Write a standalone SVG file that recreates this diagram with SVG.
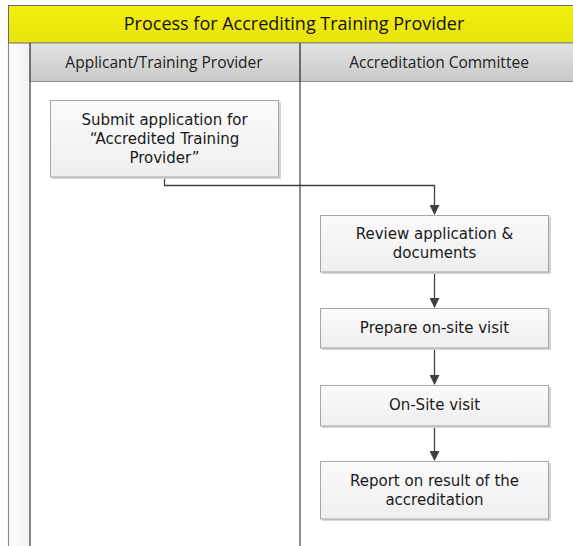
<svg xmlns="http://www.w3.org/2000/svg" width="573" height="546" viewBox="0 0 573 546">
  <defs>
    <linearGradient id="hdrGrad" x1="0" y1="0" x2="0" y2="1">
      <stop offset="0" stop-color="#e2e2e2"/>
      <stop offset="1" stop-color="#c9c9c9"/>
    </linearGradient>
    <linearGradient id="titleGrad" x1="0" y1="0" x2="0" y2="1">
      <stop offset="0" stop-color="#f2ee0e"/>
      <stop offset="1" stop-color="#e8e40c"/>
    </linearGradient>
    <linearGradient id="stripGrad" x1="0" y1="0" x2="1" y2="0">
      <stop offset="0" stop-color="#ffffff"/>
      <stop offset="1" stop-color="#f0f0f0"/>
    </linearGradient>
    <linearGradient id="boxGrad" x1="0" y1="0" x2="0" y2="1">
      <stop offset="0" stop-color="#fbfbfb"/>
      <stop offset="1" stop-color="#eeeeee"/>
    </linearGradient>
    <marker id="arrow" markerWidth="10" markerHeight="10" refX="9" refY="5" orient="auto" markerUnits="userSpaceOnUse">
      <path d="M0,0 L10,5 L0,10 Z" fill="#404040"/>
    </marker>
    <style>
      .box { fill: url(#boxGrad); stroke: #a6a6a6; stroke-width: 1; }
      .shadow { fill: #d6d6d6; }
      .label { font-family: "DejaVu Sans", Verdana, sans-serif; font-size: 15px; fill: #1a1a1a; text-anchor: middle; }
      .hdr { font-family: "Open Sans", "Liberation Sans", sans-serif; font-size: 15.5px; fill: #222; text-anchor: middle; }
      .conn { fill: none; stroke: #404040; stroke-width: 1.3; marker-end: url(#arrow); }
    </style>
  </defs>

  <rect width="573" height="546" fill="#ffffff"/>

  <!-- pool frame -->
  <g id="pool">
    <rect x="8.5" y="43" width="21.5" height="503" fill="url(#stripGrad)"/>
    <line x1="8.5" y1="43" x2="8.5" y2="546" stroke="#8a8a8a" stroke-width="1.2"/>
    <rect x="8.5" y="5.5" width="570" height="37.5" fill="url(#titleGrad)" stroke="#6a6a6a" stroke-width="1"/>
    <text x="294" y="30" font-family="'Open Sans', 'Liberation Sans', sans-serif" font-size="18px" fill="#111" text-anchor="middle">Process for Accrediting Training Provider</text>
  </g>

  <!-- lanes -->
  <g id="lane-applicant">
    <rect x="30" y="43" width="270" height="38.5" fill="url(#hdrGrad)" stroke="#8a8a8a" stroke-width="1"/>
    <text class="hdr" x="164" y="67.5">Applicant/Training Provider</text>
    <line x1="30" y1="43" x2="30" y2="546" stroke="#555" stroke-width="1.4"/>
  </g>
  <g id="lane-committee">
    <rect x="300" y="43" width="278" height="38.5" fill="url(#hdrGrad)" stroke="#8a8a8a" stroke-width="1"/>
    <text class="hdr" x="439" y="67.5">Accreditation Committee</text>
    <line x1="300" y1="43" x2="300" y2="546" stroke="#444" stroke-width="1.2"/>
  </g>

  <!-- connectors -->
  <g id="connectors">
    <path class="conn" d="M164.5,177 V185.5 H434.5 V214"/>
    <path class="conn" d="M434.5,272 V307"/>
    <path class="conn" d="M434.5,348 V384"/>
    <path class="conn" d="M434.5,426 V460"/>
  </g>

  <!-- process steps -->
  <g id="submit">
    <rect class="shadow" x="52" y="102" width="229" height="77"/>
    <rect class="box" x="50.5" y="100.5" width="228" height="76.5"/>
    <text class="label" x="164.5" y="125">Submit application for</text>
    <text class="label" x="164.5" y="144">“Accredited Training</text>
    <text class="label" x="164.5" y="163">Provider”</text>
  </g>
  <g id="review">
    <rect class="shadow" x="322" y="217" width="229" height="57"/>
    <rect class="box" x="320.5" y="215.5" width="228" height="56.5"/>
    <text class="label" x="434.5" y="239">Review application &amp;</text>
    <text class="label" x="434.5" y="258">documents</text>
  </g>
  <g id="prepare">
    <rect class="shadow" x="322" y="310" width="229" height="40"/>
    <rect class="box" x="320.5" y="308.5" width="228" height="39.5"/>
    <text class="label" x="434.5" y="333">Prepare on-site visit</text>
  </g>
  <g id="onsite">
    <rect class="shadow" x="322" y="387" width="229" height="41"/>
    <rect class="box" x="320.5" y="385.5" width="228" height="40.5"/>
    <text class="label" x="434.5" y="410">On-Site visit</text>
  </g>
  <g id="report">
    <rect class="shadow" x="322" y="463" width="229" height="58"/>
    <rect class="box" x="320.5" y="461.5" width="228" height="57.5"/>
    <text class="label" x="434.5" y="486">Report on result of the</text>
    <text class="label" x="434.5" y="505">accreditation</text>
  </g>
</svg>
